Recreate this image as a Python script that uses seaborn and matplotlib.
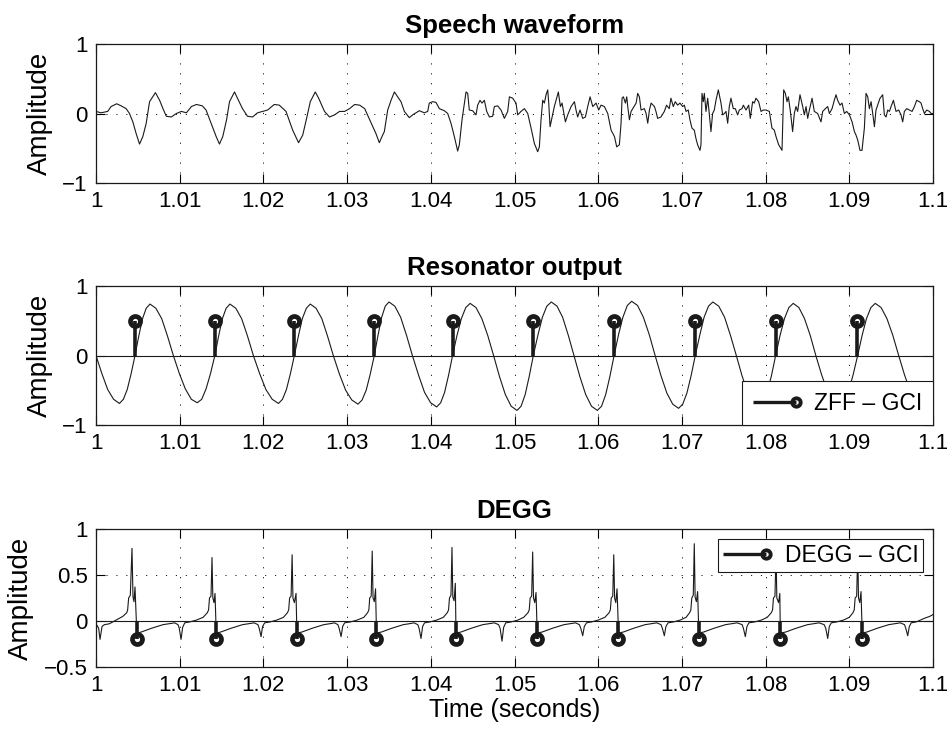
import numpy as np
import matplotlib
matplotlib.use("Agg")
import matplotlib.pyplot as plt
import seaborn as sns
from matplotlib.lines import Line2D
from matplotlib.legend_handler import HandlerBase

# ---------------- data (time in ms after 1.0 s) ----------------
speech_ms = [0.0, 0.6, 1.4, 1.8, 2.47, 3.0, 3.6, 4.0, 4.4, 4.8, 5.2, 5.6, 6.0, 6.4, 7.1, 7.6, 8.0, 8.4,
             9.0, 9.6, 10.2, 10.8, 11.4, 12.0, 12.7, 13.15, 13.75, 14.35, 14.75, 15.15, 15.6, 15.95, 16.55,
             16.9, 17.5, 18.1, 18.7, 19.3, 19.9, 20.5, 21.3, 21.9, 22.7, 23.5, 24.2, 24.7, 25.2, 25.6, 26.2,
             26.6, 27.3, 27.9, 28.5, 29.1, 29.7, 30.3, 30.9, 31.5, 32.1, 32.7,
             33.45, 33.85, 34.25, 34.45, 34.85, 35.25, 35.65, 36.04, 36.44, 36.84, 37.43, 37.83, 38.63, 39.23,
             39.63, 39.82, 40.22, 40.62, 41.02, 41.62, 42.02, 42.41, 42.81, 43.21, 43.41, 43.73, 44.01, 44.21,
             44.41, 44.6, 45.0, 45.4, 45.6, 45.88, 46.12, 46.4, 46.68, 47.0, 47.39, 47.59, 47.99, 48.39, 48.79,
             49.19, 49.39, 49.78, 50.18, 50.38, 50.78, 51.18, 51.58, 51.98, 52.37, 52.77, 52.97, 53.17, 53.37,
             53.57, 53.77, 53.97, 54.09, 54.25, 54.49, 54.76, 55.24, 55.48, 55.68, 56.08, 56.36, 56.76, 57.16,
             57.35, 57.55, 57.83, 58.15, 58.47, 58.75, 59.03, 59.35, 59.75, 60.06, 60.34, 60.74, 61.14, 61.54,
             61.94, 62.21, 62.53, 62.73, 62.85, 63.01, 63.25, 63.41, 63.53, 63.73, 63.93, 64.13, 64.53, 64.72,
             64.92, 65.12, 65.52, 65.72, 65.92, 66.12, 66.32, 66.72,
             66.9, 67.1, 67.5, 67.9, 68.17, 68.49, 68.69, 68.97, 69.21, 69.49, 69.77, 70.09, 70.29, 70.49,
             70.76, 70.96, 71.2, 71.48, 71.68, 71.88, 72.16, 72.28, 72.4, 72.56, 72.68, 72.88, 73.08, 73.27,
             73.47, 73.67, 73.87, 74.07, 74.35, 74.67, 74.87, 75.07, 75.27, 75.47, 75.66, 75.86, 76.14, 76.38,
             76.66, 76.86, 77.18, 77.34, 77.66, 77.98, 78.17, 78.45, 78.65, 78.85, 79.17, 79.45, 79.73, 80.05,
             80.45, 80.76, 81.04, 81.24, 81.56, 81.96, 82.16, 82.36, 82.56, 82.72, 82.96, 83.23, 83.43, 83.63,
             83.83, 84.11, 84.43, 84.63, 84.83, 85.03, 85.23, 85.55, 85.82, 86.22, 86.62, 86.82, 87.14, 87.42,
             87.62, 87.94, 88.21, 88.41, 88.61, 88.89, 89.13, 89.41, 89.69, 90.01, 90.33, 90.61, 90.8, 91.0,
             91.28, 91.52, 91.8, 92.0, 92.2, 92.4, 92.6, 92.8, 93.0, 93.19, 93.39, 93.67, 93.99, 94.19, 94.39,
             94.59, 94.79, 94.99, 95.27, 95.58, 95.9, 96.18, 96.38, 96.58, 96.86, 97.18, 97.5, 97.78, 98.05,
             98.37, 98.57, 98.77, 98.97, 99.25, 99.57, 99.77, 100.0]
speech_amp = [0.03, 0.01, 0.03, 0.10, 0.14, 0.11, 0.07, 0.0, -0.12, -0.29, -0.44, -0.33, -0.14, 0.17, 0.30, 0.19,
              0.07, -0.04, -0.05, 0.0, 0.03, 0.01, 0.10, 0.13, 0.11, 0.05, -0.14, -0.33, -0.44, -0.33, -0.09,
              0.17, 0.31, 0.22, 0.07, -0.04, -0.05, 0.01, 0.03, 0.05, 0.13, 0.12, 0.03, -0.24, -0.42, -0.31,
              -0.05, 0.17, 0.31, 0.22, 0.03, -0.05, -0.02, 0.03, 0.03, 0.07, 0.13, 0.12, 0.07, -0.09,
              -0.29, -0.42, -0.31, -0.26, 0.05, 0.19, 0.31, 0.24, 0.17, 0.03, -0.06, -0.02, 0.04, 0.01,
              0.03, 0.15, 0.17, 0.16, 0.07, 0.04, 0.0, -0.14, -0.33, -0.54, -0.45, -0.09, 0.15, 0.31,
              0.29, 0.05, 0.04, -0.02, 0.12, 0.19, 0.15, 0.19, 0.03, -0.05, -0.04, 0.10, 0.11, 0.05, -0.07,
              0.03, 0.24, 0.22, 0.15, -0.02, 0.03, 0.07, 0.0, -0.21, -0.43, -0.55, -0.48, -0.09, 0.19,
              0.15, 0.27, 0.34, 0.15, -0.19, -0.05, 0.10, 0.31, 0.10, 0.15, -0.12, -0.02, 0.10, 0.17,
              0.05, -0.05, 0.05, -0.07, -0.05, 0.10, 0.24, 0.10, 0.15, 0.05, 0.12, 0.10, 0.0, -0.24,
              -0.33, -0.48, -0.45, -0.14, 0.22, 0.24, 0.15, 0.24, 0.10, -0.09, 0.03, 0.07, 0.15, 0.29,
              0.24, 0.05, 0.07, 0.0, -0.14, 0.05, 0.15, 0.10,
              0.03, -0.07, -0.05, 0.03, 0.12, 0.07, 0.22, 0.10, 0.17, 0.12, 0.15, 0.10, 0.12, 0.03,
              0.05, -0.09, -0.21, -0.24, -0.36, -0.45, -0.53, -0.45, 0.29, 0.17, 0.29, 0.03, 0.22, 0.0,
              -0.26, 0.0, 0.05, 0.19, 0.34, 0.15, -0.02, 0.0, 0.03, -0.14, 0.10, 0.22, 0.07, 0.07,
              -0.02, 0.05, 0.07, 0.12, 0.05, 0.12, -0.07, 0.17, 0.15, 0.22, 0.17, 0.03, 0.05, 0.05,
              0.03, -0.21, -0.24, -0.33, -0.45, -0.53, 0.34, 0.29, 0.17, 0.24, 0.03, -0.26, 0.0, 0.10,
              0.03, 0.27, 0.10, -0.02, 0.10, -0.07, 0.05, 0.22, 0.03, 0.0, -0.12, 0.03, 0.07, 0.10,
              0.0, 0.07, 0.19, 0.27, 0.19, 0.12, 0.15, 0.0, 0.03, -0.02, -0.12, -0.26, -0.31, -0.38,
              -0.53, -0.53, -0.21, 0.29, 0.24, 0.07, 0.17, 0.0, -0.19, 0.05, 0.12, 0.22, 0.27, -0.02, -0.05,
              0.05, 0.03, 0.10, 0.19, 0.03, 0.05, -0.02, -0.12, 0.03, 0.07, 0.05, 0.03, 0.10, 0.19,
              0.17, 0.15, 0.07, 0.0, 0.05, 0.03, 0.0, 0.0]

res_ms = [0.0, 0.7, 1.4, 2.1, 2.8, 3.27, 3.73, 4.2, 4.66, 5.11, 5.56, 6.0, 6.45, 7.15, 7.85, 8.54, 9.24,
          9.96, 10.67, 11.39, 12.1, 12.63, 13.15, 13.68, 14.2, 14.65, 15.1, 15.55, 16.0, 16.7, 17.4, 18.1, 18.8,
          19.55, 20.3, 21.05, 21.8, 22.28, 22.75, 23.23, 23.7, 24.18, 24.65, 25.13, 25.6, 26.29, 26.98, 27.66,
          28.35, 29.09, 29.83, 30.56, 31.3, 31.79, 32.28, 32.76, 33.25, 33.69, 34.13, 34.56, 35.0, 35.7, 36.4,
          37.1, 37.8, 38.53, 39.25, 39.98, 40.7, 41.18, 41.65, 42.13, 42.6, 43.13, 43.65, 44.18, 44.7, 45.4,
          46.1, 46.8, 47.5, 48.2, 48.9, 49.6, 50.3, 50.79, 51.28, 51.76, 52.25, 52.79, 53.33, 53.86, 54.4,
          55.08, 55.75, 56.43, 57.1, 57.8, 58.5, 59.2, 59.9, 60.4, 60.9, 61.4, 61.9, 62.43, 62.95, 63.48, 64.0,
          64.7, 65.4, 66.1, 66.8, 67.5, 68.2, 68.9, 69.6, 70.1, 70.6, 71.1, 71.6, 72.13, 72.65, 73.18, 73.7,
          74.4, 75.1, 75.8, 76.5, 77.18, 77.85, 78.53, 79.2, 79.7, 80.2, 80.7, 81.2, 81.73, 82.25, 82.78, 83.3,
          83.98, 84.65, 85.33, 86.0, 86.7, 87.4, 88.1, 88.8, 89.35, 89.9, 90.45, 91.0, 91.53, 92.05, 92.58,
          93.1, 93.8, 94.5, 95.2, 95.9, 96.6, 97.3, 98.0, 98.7, 99.35, 100.0]
res_amp = [0.0, -0.26, -0.49, -0.63, -0.69, -0.63, -0.49, -0.26, 0.0, 0.28, 0.53, 0.68, 0.74, 0.68, 0.53, 0.28,
           0.0, -0.26, -0.48, -0.63, -0.68, -0.63, -0.48, -0.26, 0.0, 0.28, 0.53, 0.68, 0.74, 0.68, 0.53, 0.28,
           0.0, -0.26, -0.49, -0.63, -0.69, -0.63, -0.49, -0.26, 0.0, 0.28, 0.53, 0.68, 0.74, 0.68, 0.53, 0.28,
           0.0, -0.27, -0.50, -0.64, -0.70, -0.64, -0.50, -0.27, 0.0, 0.29, 0.55, 0.71, 0.77, 0.71, 0.55, 0.29,
           0.0, -0.28, -0.53, -0.68, -0.74, -0.68, -0.53, -0.28, 0.0, 0.29, 0.53, 0.69, 0.75, 0.69, 0.53, 0.29,
           0.0, -0.30, -0.56, -0.73, -0.79, -0.73, -0.56, -0.30, 0.0, 0.29, 0.55, 0.71, 0.77, 0.71, 0.55, 0.29,
           0.0, -0.30, -0.56, -0.73, -0.79, -0.73, -0.56, -0.30, 0.0, 0.30, 0.55, 0.72, 0.78, 0.72, 0.55, 0.30,
           0.0, -0.29, -0.54, -0.70, -0.76, -0.70, -0.54, -0.29, 0.0, 0.29, 0.55, 0.71, 0.77, 0.71, 0.55, 0.29,
           0.0, -0.29, -0.53, -0.69, -0.75, -0.69, -0.53, -0.29, 0.0, 0.29, 0.53, 0.69, 0.75, 0.69, 0.53, 0.29,
           0.0, -0.28, -0.52, -0.67, -0.73, -0.67, -0.52, -0.28, 0.0, 0.29, 0.53, 0.69, 0.75, 0.69, 0.53, 0.29,
           0.0, -0.28, -0.52, -0.67, -0.73, -0.69, -0.60]

zff_gci_ms = [4.66, 14.2, 23.7, 33.25, 42.6, 52.25, 61.9, 71.6, 81.24, 90.96]
zff_gci_amp = [0.5, 0.5, 0.5, 0.5, 0.5, 0.5, 0.5, 0.5, 0.5, 0.5]

degg_ms = [0.0, 0.32, 0.48, 0.72, 1.0, 1.6, 2.4, 3.2, 3.67, 3.78, 3.9, 4.1, 4.22, 4.3, 4.42, 4.54, 4.66, 4.82, 4.94,
           5.4, 6.0, 6.6, 7.3, 8.0, 8.7, 9.4, 9.8, 9.95, 10.16, 10.35, 10.6, 11.2, 12.0, 12.8, 13.3, 13.45, 13.56,
           13.74, 13.8, 13.86, 13.96, 14.1, 14.22, 14.32, 14.4,
           14.9, 15.5, 16.1, 16.8, 17.5, 18.2, 18.9, 19.35, 19.5, 19.72, 19.9, 20.15, 20.8, 21.6, 22.4, 22.87,
           23.02, 23.13, 23.31, 23.37, 23.43, 23.53, 23.7, 23.9, 23.97, 24.06,
           24.6, 25.2, 25.8, 26.5, 27.2, 27.9, 28.5, 28.9, 29.05, 29.28, 29.47, 29.7, 30.4, 31.2, 32.0, 32.45,
           32.6, 32.7, 32.88, 32.94, 33.0, 33.1, 33.25, 33.4, 33.48, 33.56,
           34.1, 34.7, 35.3, 36.0, 36.7, 37.4, 38.0, 38.45, 38.6, 38.83, 39.02, 39.25, 39.9, 40.7, 41.5, 41.97,
           42.12, 42.23, 42.41, 42.47, 42.53, 42.63, 42.78, 42.93, 42.99, 43.07,
           43.6, 44.2, 44.8, 45.5, 46.2, 46.9, 47.6, 48.1, 48.28, 48.51, 48.7, 48.95, 49.6, 50.4, 51.1, 51.61,
           51.76, 51.87, 52.05, 52.11, 52.17, 52.27, 52.42, 52.57, 52.67, 52.75,
           53.3, 53.9, 54.5, 55.2, 55.9, 56.6, 57.3, 57.75, 57.92, 58.15, 58.34, 58.6, 59.2, 60.0, 60.8, 61.3,
           61.45, 61.56, 61.74, 61.8, 61.86, 61.96, 62.1, 62.25, 62.38, 62.47,
           63.0, 63.6, 64.2, 64.9, 65.6, 66.3, 67.0, 67.5, 67.67, 67.9, 68.09, 68.35, 69.0, 69.8, 70.5, 70.92,
           71.07, 71.18, 71.36, 71.42, 71.48, 71.58, 71.73, 71.88, 71.98, 72.06,
           72.6, 73.2, 73.8, 74.5, 75.2, 75.9, 76.6, 77.2, 77.35, 77.58, 77.77, 78.0, 78.7, 79.5, 80.2, 80.68,
           80.83, 80.94, 81.12, 81.18, 81.24, 81.34, 81.55, 81.7, 81.74, 81.82,
           82.4, 83.0, 83.6, 84.3, 85.0, 85.7, 86.4, 87.0, 87.19, 87.42, 87.61, 87.85, 88.5, 89.3, 90.0, 90.44,
           90.59, 90.7, 90.88, 90.94, 91.0, 91.1, 91.25, 91.4, 91.5, 91.58,
           92.1, 92.7, 93.3, 94.0, 94.7, 95.4, 96.1, 96.6, 96.75, 96.98, 97.17, 97.4, 98.0, 99.0, 99.6, 100.0]
degg_amp = [-0.03, -0.08, -0.20, -0.06, -0.04, -0.03, 0.01, 0.05, 0.09, 0.12, 0.25, 0.28, 0.57, 0.79, 0.26, 0.21,
            0.37, 0.0, -0.13,
            -0.12, -0.10, -0.08, -0.06, -0.04, -0.03, -0.02, -0.04, -0.08, -0.20, -0.07, -0.02, -0.01, 0.01, 0.04,
            0.09, 0.12, 0.25, 0.27, 0.50, 0.69, 0.25, 0.20, 0.30, 0.0, -0.13,
            -0.12, -0.10, -0.08, -0.06, -0.04, -0.03, -0.02, -0.04, -0.08, -0.17, -0.06, -0.02, -0.01, 0.01, 0.04,
            0.09, 0.12, 0.25, 0.27, 0.50, 0.72, 0.25, 0.20, 0.30, 0.0, -0.13,
            -0.12, -0.10, -0.08, -0.06, -0.04, -0.03, -0.02, -0.04, -0.08, -0.17, -0.06, -0.02, -0.01, 0.01, 0.04,
            0.09, 0.12, 0.25, 0.27, 0.50, 0.76, 0.25, 0.21, 0.35, 0.0, -0.13,
            -0.12, -0.10, -0.08, -0.06, -0.04, -0.03, -0.02, -0.04, -0.08, -0.19, -0.06, -0.02, -0.01, 0.01, 0.04,
            0.09, 0.12, 0.25, 0.28, 0.55, 0.80, 0.26, 0.22, 0.41, 0.0, -0.13,
            -0.12, -0.10, -0.08, -0.06, -0.04, -0.03, -0.02, -0.04, -0.08, -0.22, -0.07, -0.02, -0.01, 0.01, 0.04,
            0.09, 0.12, 0.25, 0.27, 0.50, 0.75, 0.25, 0.20, 0.31, 0.0, -0.13,
            -0.12, -0.10, -0.08, -0.06, -0.04, -0.03, -0.02, -0.04, -0.08, -0.16, -0.06, -0.02, -0.01, 0.01, 0.04,
            0.09, 0.12, 0.25, 0.27, 0.50, 0.72, 0.25, 0.20, 0.35, 0.0, -0.13,
            -0.12, -0.10, -0.08, -0.06, -0.04, -0.03, -0.02, -0.04, -0.08, -0.16, -0.06, -0.02, -0.01, 0.01, 0.04,
            0.09, 0.12, 0.25, 0.28, 0.55, 0.84, 0.26, 0.21, 0.32, 0.0, -0.13,
            -0.12, -0.10, -0.08, -0.06, -0.04, -0.03, -0.02, -0.04, -0.08, -0.17, -0.06, -0.02, -0.01, 0.01, 0.04,
            0.09, 0.12, 0.25, 0.27, 0.50, 0.80, 0.25, 0.20, 0.30, 0.0, -0.13,
            -0.12, -0.10, -0.08, -0.06, -0.04, -0.03, -0.02, -0.04, -0.08, -0.19, -0.06, -0.02, -0.01, 0.01, 0.04,
            0.09, 0.12, 0.25, 0.27, 0.50, 0.80, 0.25, 0.20, 0.32, 0.0, -0.13,
            -0.12, -0.10, -0.08, -0.06, -0.04, -0.03, -0.02, -0.04, -0.08, -0.16, -0.06, -0.02, -0.01, 0.03, 0.05,
            0.07]

degg_gci_ms = [4.86, 14.34, 24.0, 33.5, 43.01, 52.69, 62.41, 72.0, 81.76, 91.52]
degg_gci_amp = [-0.2, -0.2, -0.2, -0.2, -0.2, -0.2, -0.2, -0.2, -0.2, -0.2]

xtick_vals = [1.0, 1.01, 1.02, 1.03, 1.04, 1.05, 1.06, 1.07, 1.08, 1.09, 1.1]
xtick_labels = ["1", "1.01", "1.02", "1.03", "1.04", "1.05", "1.06", "1.07", "1.08", "1.09", "1.1"]
ytick_vals_12 = [-1, 0, 1]
ytick_labels_12 = ["\u22121", "0", "1"]
ytick_vals_3 = [-0.5, 0, 0.5, 1]
ytick_labels_3 = ["\u22120.5", "0", "0.5", "1"]

titles = ["Speech waveform", "Resonator output", "DEGG"]
legend_labels = ["ZFF \u2013 GCI", "DEGG \u2013 GCI"]

# ---------------- style ----------------
sns.set_theme(style="ticks", rc={"axes.edgecolor": "black", "axes.linewidth": 0.9,
                                 "xtick.color": "black", "ytick.color": "black",
                                 "text.color": "black", "axes.labelcolor": "black"})
plt.rcParams["font.family"] = ["Liberation Sans", "DejaVu Sans"]

FS_TICK = 16
FS_TITLE = 18.5
FS_YLAB = 20
FS_XLAB = 18
FS_LEG = 16.5


def sec(ms):
    return 1.0 + np.asarray(ms) / 1000.0


class StemHandler(HandlerBase):
    def create_artists(self, legend, orig_handle, xdescent, ydescent, width, height, fontsize, trans):
        y = height / 2.0 - ydescent
        x0 = -xdescent
        x1 = width - xdescent
        ln = Line2D([x0, x1], [y, y], color="k", lw=2.4, solid_capstyle="butt")
        mk = Line2D([x1], [y], marker="o", ms=6.0, mew=2.8, mfc="none", mec="k", ls="none")
        ln.set_transform(trans)
        mk.set_transform(trans)
        return [ln, mk]


fig = plt.figure(figsize=(9.5, 7.29), dpi=100)
L, W = 96 / 950, (933 - 96) / 950
ax1 = fig.add_axes([L, 1 - 183 / 729, W, (183 - 44) / 729])
ax2 = fig.add_axes([L, 1 - 425 / 729, W, (425 - 286) / 729])
ax3 = fig.add_axes([L, 1 - 667 / 729, W, (667 - 529) / 729])

grid_kw = dict(color="k", lw=0.7, ls=(0, (1.2, 9)))


def style_axis(ax, yt, ytl, ylim, title):
    ax.set_xlim(1.0, 1.1)
    ax.set_ylim(*ylim)
    ax.set_xticks(xtick_vals)
    ax.set_xticklabels(xtick_labels)
    ax.set_yticks(yt)
    ax.set_yticklabels(ytl)
    ax.tick_params(direction="in", length=6.5, width=0.8, top=True, right=True,
                   labelsize=FS_TICK, pad=6)
    ax.grid(True, **grid_kw)
    ax.set_axisbelow(True)
    ax.set_title(title, fontsize=FS_TITLE, fontweight="bold", pad=8)
    ax.set_ylabel("Amplitude", fontsize=FS_YLAB, labelpad=7)
    for s in ax.spines.values():
        s.set_visible(True)
        s.set_linewidth(0.9)
        s.set_color("k")


# Panel 1: speech
sns.lineplot(x=sec(speech_ms), y=speech_amp, ax=ax1, color="k", linewidth=0.8,
             estimator=None, sort=False)
style_axis(ax1, ytick_vals_12, ytick_labels_12, (-1, 1), titles[0])

# Panel 2: resonator + ZFF GCI stems
sns.lineplot(x=sec(res_ms), y=res_amp, ax=ax2, color="k", linewidth=0.8,
             estimator=None, sort=False)
ax2.axhline(0, color="k", lw=0.8, zorder=2.5)
ax2.vlines(sec(zff_gci_ms), 0, zff_gci_amp, color="k", lw=2.6, zorder=3)
ax2.plot(sec(zff_gci_ms), zff_gci_amp, ls="none", marker="o", ms=7.2, mew=3.4,
         mfc="none", mec="k", zorder=4)
style_axis(ax2, ytick_vals_12, ytick_labels_12, (-1, 1), titles[1])
h2 = Line2D([], [])
leg2 = ax2.legend([h2], [legend_labels[0]], handler_map={h2: StemHandler()},
                  loc="lower right", borderaxespad=0, fancybox=False, framealpha=1,
                  edgecolor="k", fontsize=FS_LEG, handlelength=1.9, handletextpad=0.8,
                  borderpad=0.45)
leg2.get_frame().set_linewidth(0.8)

# Panel 3: DEGG + GCI stems
sns.lineplot(x=sec(degg_ms), y=degg_amp, ax=ax3, color="k", linewidth=0.8,
             estimator=None, sort=False)
ax3.axhline(0, color="k", lw=0.8, zorder=2.5)
ax3.vlines(sec(degg_gci_ms), 0, degg_gci_amp, color="k", lw=2.6, zorder=3)
ax3.plot(sec(degg_gci_ms), degg_gci_amp, ls="none", marker="o", ms=7.2, mew=3.4,
         mfc="none", mec="k", zorder=4)
style_axis(ax3, ytick_vals_3, ytick_labels_3, (-0.5, 1), titles[2])
ax3.set_xlabel("Time (seconds)", fontsize=FS_XLAB, labelpad=1)
h3 = Line2D([], [])
leg3 = ax3.legend([h3], [legend_labels[1]], handler_map={h3: StemHandler()},
                  loc="upper right", borderaxespad=0.42, fancybox=False, framealpha=1,
                  edgecolor="k", fontsize=FS_LEG, handlelength=1.9, handletextpad=0.8,
                  borderpad=0.22)
leg3.get_frame().set_linewidth(0.8)

fig.savefig("out.png", dpi=100)
